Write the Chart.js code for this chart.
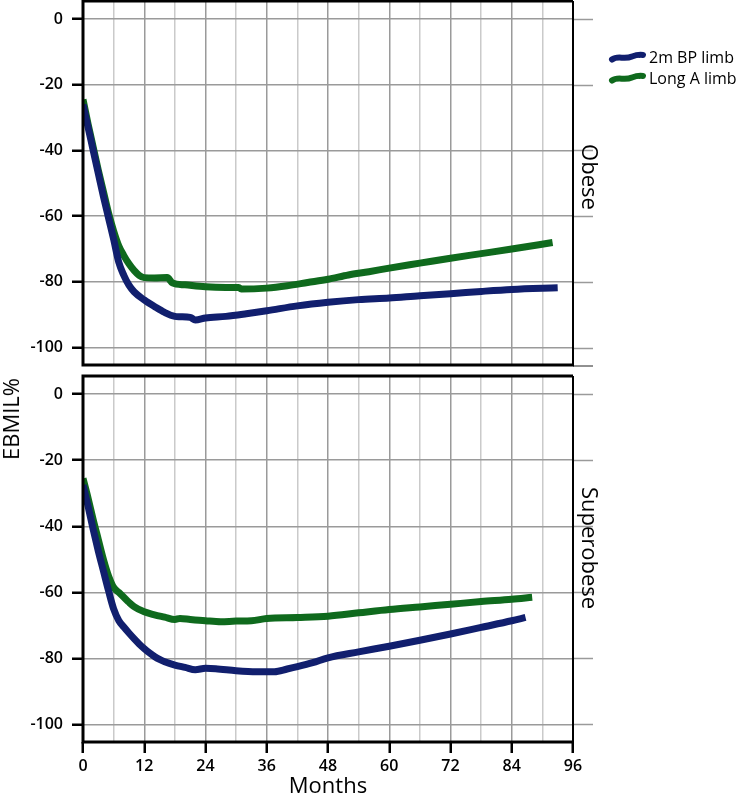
<!DOCTYPE html>
<html>
<head>
<meta charset="utf-8">
<script src="https://cdn.jsdelivr.net/npm/chart.js@4.4.1/dist/chart.umd.min.js"></script>
<style>
  html, body { margin: 0; padding: 0; background: #fff; }
  body { width: 742px; height: 799px; position: relative; overflow: hidden; font-family: "Open Sans", sans-serif; color: #000; }
  .panel { position: absolute; left: 0; width: 742px; }
  .rot { position: absolute; white-space: nowrap; transform: translate(-50%, -50%) rotate(90deg); font-size: 22px; }
  .rotl { position: absolute; white-space: nowrap; transform: translate(-50%, -50%) rotate(-90deg); font-size: 22px; }
  #legend { position: absolute; left: 608px; top: 46px; font-size: 16px; }
  #legend .item { height: 21px; display: flex; align-items: center; }
  #legend svg { margin-right: 3px; }
</style>
</head>
<body>
<div class="panel" style="top:0;height:370px"><canvas id="c1" width="742" height="370"></canvas></div>
<div class="panel" style="top:370px;height:429px"><canvas id="c2" width="742" height="429"></canvas></div>
<div class="rotl" style="left:10px;top:419px">EBMIL%</div>
<div class="rot" style="left:591px;top:177px">Obese</div>
<div class="rot" style="left:591px;top:548px">Superobese</div>
<div id="legend"></div>
<script>
// ---------- data ----------
const seriesNames = ["2m BP limb", "Long A limb"];
const seriesColors = ["#111f6e", "#0f6a1d"];
const panelNames = ["Obese", "Superobese"];

const xTickLabels = [0, 12, 24, 36, 48, 60, 72, 84, 96];
const xGridMonths = [0, 6, 12, 18, 24, 30, 36, 42, 48, 54, 60, 66, 72, 78, 84, 90, 96];
const yTickLabels = [-100, -80, -60, -40, -20, 0];

// Obese panel
const obeseBPMonths = [0, 1, 2, 3, 4, 5, 6, 7, 8, 9, 10, 12, 14, 16, 18, 19, 21, 22, 24, 28, 32, 36, 42, 48, 54, 60, 66, 72, 78, 84, 93];
const obeseBPValues = [-26, -33, -40, -47, -54, -60.5, -67, -74, -78, -81, -83, -85.5, -87.5, -89.3, -90.5, -90.6, -90.8, -91.6, -91, -90.5, -89.7, -88.8, -87.3, -86.2, -85.4, -84.9, -84.2, -83.6, -82.9, -82.3, -81.8];
const obeseLongMonths = [0, 1, 2, 3, 4, 5, 6, 7, 8, 9, 10, 11, 12, 14, 16.5, 17.5, 20, 24, 28, 30.5, 31, 36, 40, 44, 48, 52, 56, 60, 66, 72, 78, 84, 92];
const obeseLongValues = [-24.5, -32, -39, -46, -52.5, -59, -64.5, -69, -72, -74.5, -76.5, -78, -78.7, -78.8, -78.7, -80.3, -80.9, -81.5, -81.7, -81.7, -82.2, -81.9, -81.2, -80.2, -79.2, -77.9, -76.9, -75.8, -74.3, -72.8, -71.4, -70, -68];

// Superobese panel
const superBPMonths = [0, 1, 2, 3, 4, 5, 6, 7, 8, 9, 10, 11, 12, 13, 14, 15, 16, 18, 20, 22, 24, 26, 30, 34, 37.5, 40, 42, 45, 48, 54, 60, 66, 72, 78, 84, 86.7];
const superBPValues = [-27.5, -34, -41, -47.5, -53.5, -59.5, -65, -68.5, -70.5, -72.3, -74, -75.6, -77, -78.3, -79.4, -80.3, -81, -82, -82.7, -83.4, -83, -83.1, -83.7, -84, -84, -83.2, -82.5, -81.3, -79.8, -78, -76.3, -74.5, -72.6, -70.6, -68.6, -67.6];
const superLongMonths = [0, 1, 2, 3, 4, 5, 6, 7, 8, 9, 10, 12, 14, 16, 18, 19, 21, 24, 27, 30, 33, 36, 42, 48, 54, 60, 66, 72, 78, 84, 88];
const superLongValues = [-25.5, -31.5, -38, -44, -50, -55, -58.5, -60, -61.5, -63, -64.3, -65.9, -66.8, -67.5, -68.2, -67.9, -68.2, -68.6, -68.9, -68.7, -68.6, -67.9, -67.6, -67.2, -66.2, -65.2, -64.4, -63.6, -62.8, -62.1, -61.5];

// ---------- styles ----------
const FONT = "'Open Sans', sans-serif";
const GRID_MAJOR = "#9a9a9a";
const GRID_MINOR = "#cacaca";
const X_MIN = 0, X_MAX = 96, Y_MIN = -105.3, Y_MAX = 5.5;

function pts(ms, vs) { return ms.map((m, i) => ({ x: m, y: vs[i] })); }

function ds(label, color, ms, vs) {
  return {
    label, data: pts(ms, vs), borderColor: color, backgroundColor: color,
    borderWidth: 7, pointRadius: 0, tension: 0.25, cubicInterpolationMode: 'monotone',
    borderCapStyle: 'butt', borderJoinStyle: 'round', fill: false
  };
}

const framePlugin = {
  id: 'frame',
  afterDatasetsDraw(chart, args, opts) {
    const { ctx, chartArea: a } = chart;
    const y = chart.scales.y;
    ctx.save();
    ctx.strokeStyle = GRID_MAJOR; ctx.lineWidth = 1.5;
    yTickLabels.forEach(v => {
      const py = Math.round(y.getPixelForValue(v)) + 0.5;
      ctx.beginPath(); ctx.moveTo(a.right, py); ctx.lineTo(a.right + 20, py); ctx.stroke();
    });
    if (opts.extendBottom) {
      ctx.strokeStyle = '#222'; ctx.lineWidth = 1;
      ctx.beginPath(); ctx.moveTo(a.right, a.bottom + 1); ctx.lineTo(a.right + 20, a.bottom + 1); ctx.stroke();
    }
    ctx.strokeStyle = '#000';
    ctx.lineWidth = 3;
    ctx.beginPath();
    ctx.moveTo(a.left, a.top); ctx.lineTo(a.right, a.top);
    ctx.moveTo(a.left, a.top - 1.5); ctx.lineTo(a.left, a.bottom + 1.5);
    ctx.moveTo(a.left, a.bottom); ctx.lineTo(a.right + 1, a.bottom);
    ctx.stroke();
    ctx.lineWidth = 2;
    ctx.beginPath(); ctx.moveTo(a.right, a.top); ctx.lineTo(a.right, a.bottom); ctx.stroke();
    ctx.restore();
  }
};

function makeChart(id, datasets, isBottom) {
  const xAxisH = isBottom ? 57 : 5;
  return new Chart(document.getElementById(id), {
    type: 'line',
    data: { datasets },
    plugins: [framePlugin],
    options: {
      responsive: false, animation: false, devicePixelRatio: 1,
      layout: { padding: { left: 0, right: 169, top: isBottom ? 6 : 1, bottom: 0 } },
      plugins: { legend: { display: false }, tooltip: { enabled: false }, frame: { extendBottom: !isBottom } },
      scales: {
        x: {
          type: 'linear', min: X_MIN, max: X_MAX,
          afterBuildTicks: s => { s.ticks = xGridMonths.map(v => ({ value: v })); },
          afterFit: s => { s.height = xAxisH; s.paddingLeft = 0; s.paddingRight = 0; },
          border: { display: false },
          grid: {
            color: c => (c.tick && xTickLabels.includes(c.tick.value)) ? GRID_MAJOR : GRID_MINOR,
            lineWidth: 1.5,
            drawTicks: isBottom, tickLength: 11, tickWidth: 2.5,
            tickColor: c => (c.tick && xTickLabels.includes(c.tick.value)) ? '#000' : 'rgba(0,0,0,0)'
          },
          ticks: {
            display: isBottom, autoSkip: false, maxRotation: 0, padding: 4,
            color: '#000', font: { family: FONT, size: 16, weight: '600' },
            callback: v => xTickLabels.includes(v) ? String(v) : ''
          },
          title: {
            display: isBottom, text: 'Months', color: '#000',
            font: { family: FONT, size: 22, lineHeight: 1 }, padding: { top: 0, bottom: 1 }
          }
        },
        y: {
          type: 'linear', min: Y_MIN, max: Y_MAX,
          afterBuildTicks: s => { s.ticks = yTickLabels.map(v => ({ value: v })); },
          afterFit: s => { s.width = 83; s.paddingTop = 0; s.paddingBottom = 0; },
          border: { display: false },
          grid: { color: GRID_MAJOR, lineWidth: 1.5, tickLength: 11, tickWidth: 2.5, tickColor: '#000' },
          ticks: { padding: 9, color: '#000', font: { family: FONT, size: 16, weight: '600' }, callback: v => String(v) }
        }
      }
    }
  });
}

makeChart('c1', [
  ds(seriesNames[0], seriesColors[0], obeseBPMonths, obeseBPValues),
  ds(seriesNames[1], seriesColors[1], obeseLongMonths, obeseLongValues)
], false);
makeChart('c2', [
  ds(seriesNames[0], seriesColors[0], superBPMonths, superBPValues),
  ds(seriesNames[1], seriesColors[1], superLongMonths, superLongValues)
], true);

const legend = document.getElementById('legend');
seriesNames.forEach((name, i) => {
  const item = document.createElement('div');
  item.className = 'item';
  item.innerHTML =
    '<svg width="38" height="14" viewBox="0 0 38 14">' +
    '<path d="M4,9.5 C10,5 16,10 24,6.5 C28,5 31,4.5 35,5" fill="none" stroke="' + seriesColors[i] +
    '" stroke-width="6" stroke-linecap="round"/>' +
    '<path d="M31,2 L37,5 L31,8 Z" fill="' + seriesColors[i] + '"/></svg>' +
    '<span>' + name + '</span>';
  legend.appendChild(item);
});
</script>
</body>
</html>
